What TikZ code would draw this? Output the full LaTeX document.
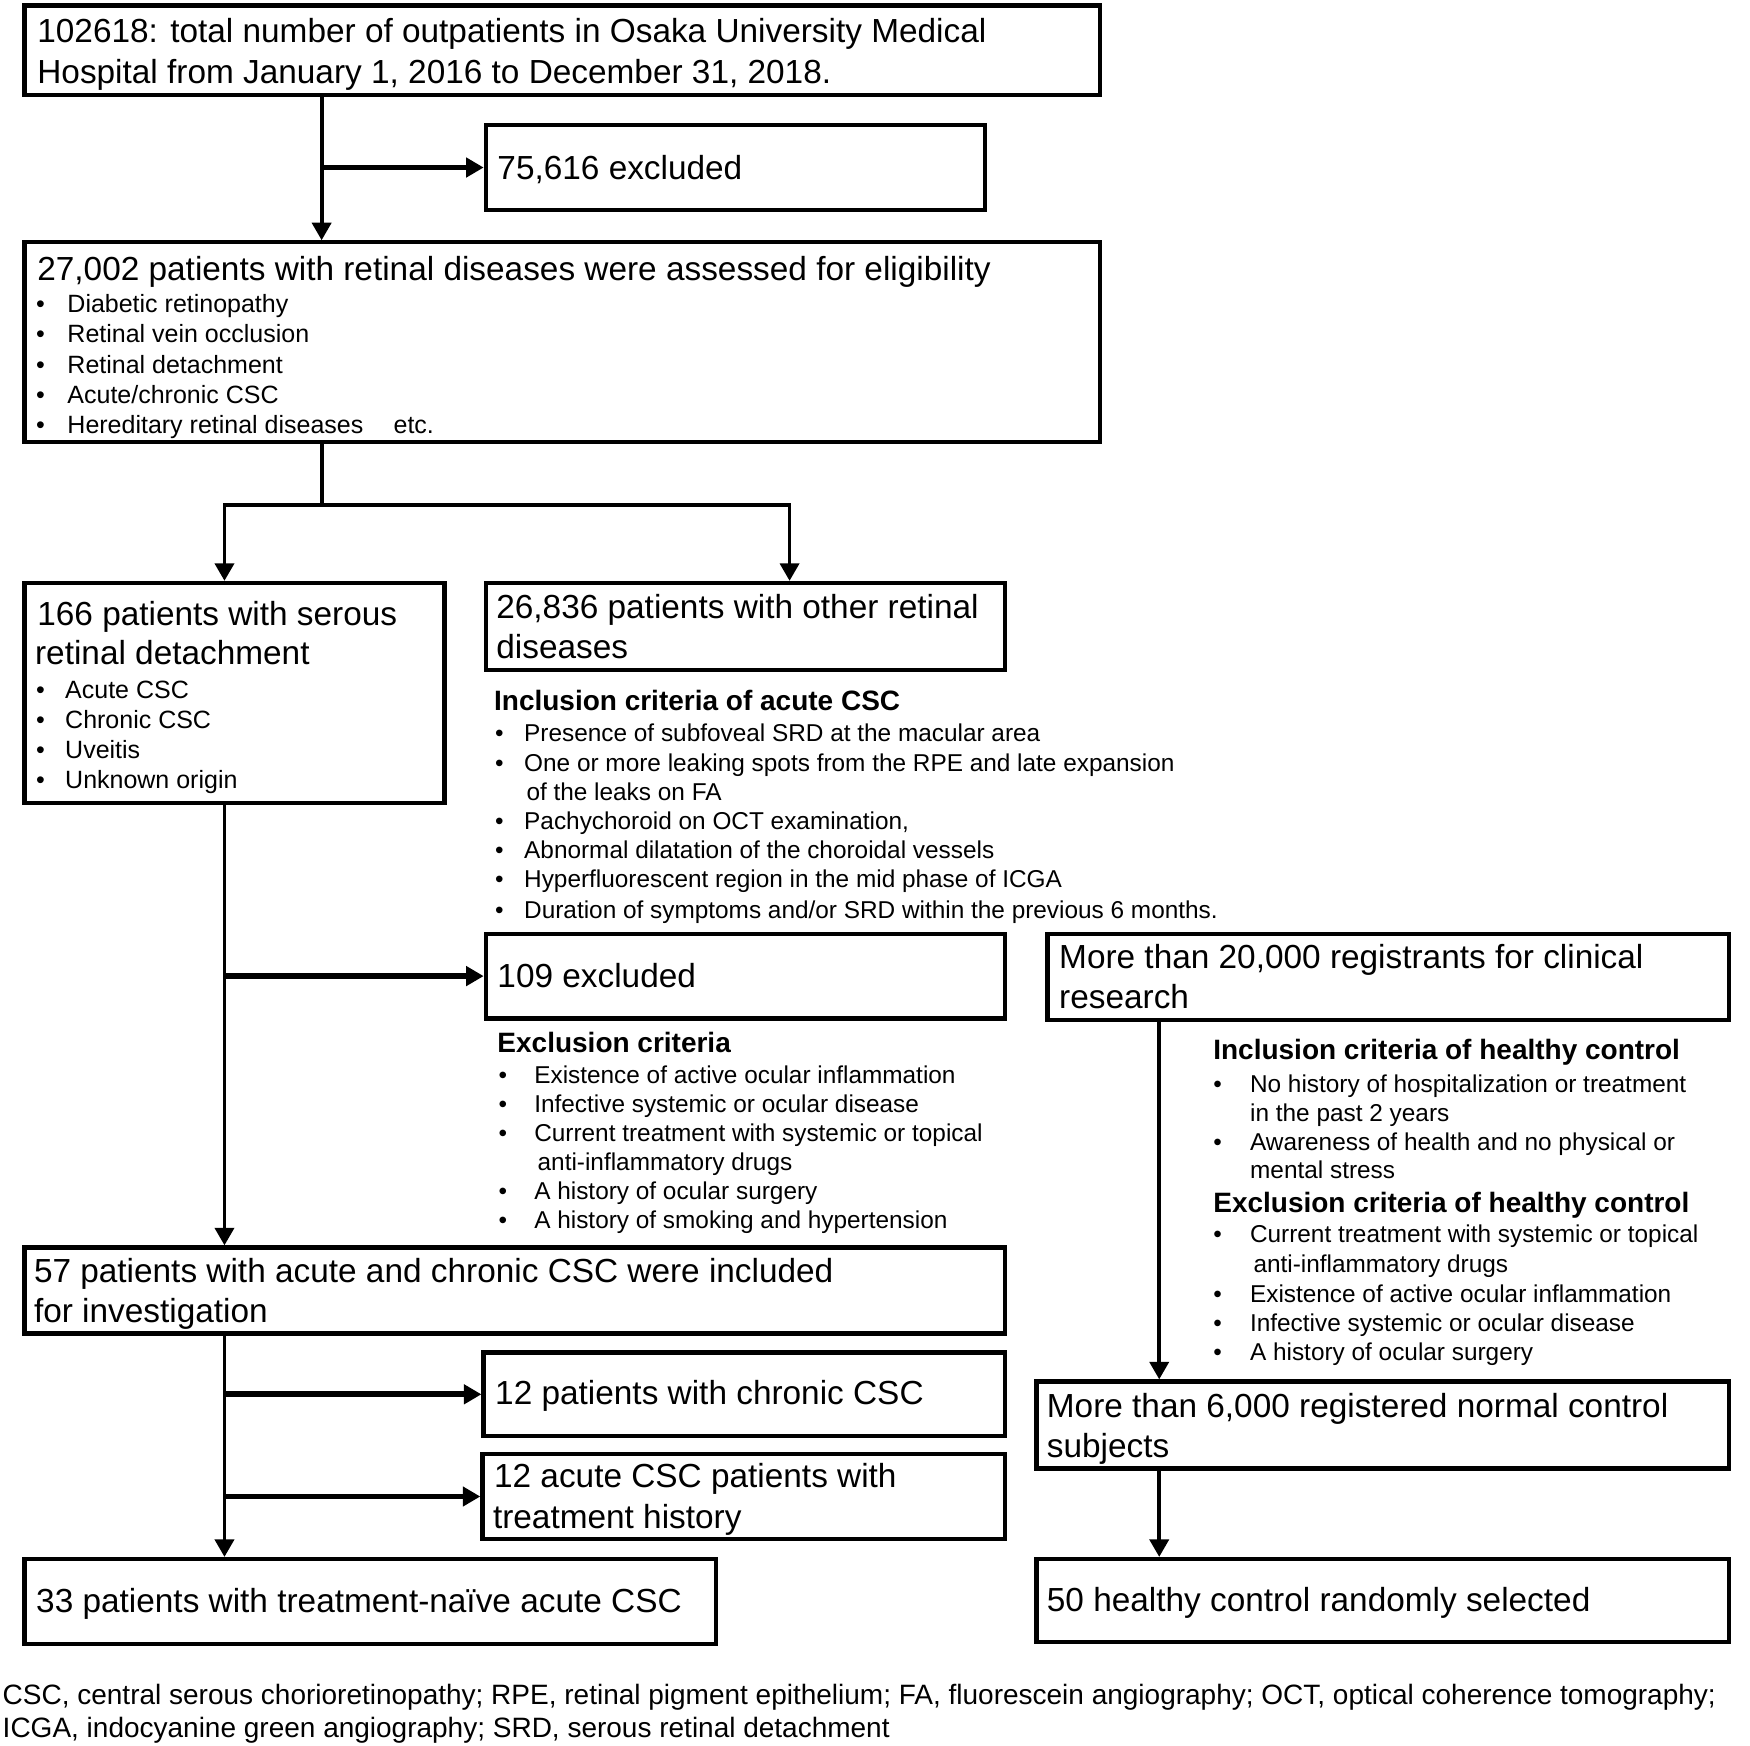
\documentclass[tikz,border=0pt]{standalone}
\usepackage{fontspec}
\setmainfont{Liberation Sans}
\usetikzlibrary{fit,arrows.meta}
\newcommand\bitem[2]{\makebox[#1][l]{\textbullet}#2}
\tikzset{
 box/.style={draw, line width=1.7pt, inner sep=0pt},
 big/.style={font=\fontsize{13.35}{16}\selectfont, inner sep=0pt, anchor=base west},
 sm/.style={font=\fontsize{9.75}{12}\selectfont, inner sep=0pt, anchor=base west},
 smb/.style={font=\fontsize{10}{12}\selectfont, inner sep=0pt, anchor=base west},
 hd/.style={font=\fontsize{11.2}{13}\selectfont\bfseries, inner sep=0pt, anchor=base west},
 foot/.style={font=\fontsize{11.2}{13}\selectfont, inner sep=0pt, anchor=base west},
 vline/.style={line width=1.5pt},
 varr/.style={line width=1.5pt, -{Triangle[length=7pt,width=7.6pt]}},
 harr/.style={line width=2.3pt, -{Triangle[length=7pt,width=7.6pt]}},
}
\begin{document}
\begin{tikzpicture}[x=0.4468pt, y=-0.4468pt]
\useasboundingbox (0,0) rectangle (1567,1563);
% boxes
\node[box, fit={(22,5)(985,85)}] (top) {};
\node[box, fit={(435,112)(882,188)}] (ex1) {};
\node[box, fit={(22,217)(985,396)}] (elig) {};
\node[box, fit={(22,522)(398,719)}] (srd) {};
\node[box, fit={(435,522)(900,600)}] (other) {};
\node[box, fit={(435,836)(900,912)}] (ex2) {};
\node[box, fit={(938,836)(1548,913)}] (reg) {};
\node[box, fit={(22,1117)(900,1194)}] (inc) {};
\node[box, fit={(433,1211)(900,1286)}] (chr) {};
\node[box, fit={(432,1302)(900,1378)}] (trt) {};
\node[box, fit={(22,1396)(641,1472)}] (naive) {};
\node[box, fit={(928,1237)(1548,1315)}] (norm) {};
\node[box, fit={(928,1396)(1548,1470)}] (healthy) {};
% trunk coordinates
\coordinate (t1) at (288,0);
\coordinate (t2) at (201,0);
\coordinate (t3) at (707,0);
\coordinate (t4) at (1038,0);
\coordinate (j1) at (288,452);
% connectors
\draw[varr] (top.south -| t1) -- (elig.north -| t1);
\draw[harr] (t1 |- ex1.west) -- (ex1.west);
\draw[vline] (elig.south -| t1) -- (j1);
\draw[line width=1.5pt, {Triangle[length=7pt,width=7.6pt]}-{Triangle[length=7pt,width=7.6pt]}]
  (srd.north -| t2) -- (j1 -| t2) -- (j1 -| t3) -- (other.north -| t3);
\draw[varr] (srd.south -| t2) -- (inc.north -| t2);
\draw[harr] (t2 |- ex2.west) -- (ex2.west);
\draw[varr] (inc.south -| t2) -- (naive.north -| t2);
\draw[harr] (t2 |- chr.west) -- (chr.west);
\draw[harr] (t2 |- trt.west) -- (trt.west);
\draw[varr] (reg.south -| t4) -- (norm.north -| t4);
\draw[varr] (norm.south -| t4) -- (healthy.north -| t4);
% texts
\node[big] (top1) at (33,38) {102618: total number of outpatients in Osaka University Medical};
\node[big] (top2) at (33,75) {Hospital from January 1, 2016 to December 31, 2018.};
\node[big] (ex1t) at (445,161) {75,616 excluded};
\node[big] (eligt) at (33,251) {27,002 patients with retinal diseases were assessed for eligibility};
\node[smb] (el1) at (32,280) {\bitem{12.5pt}{Diabetic retinopathy}};
\node[smb] (el2) at (32,307) {\bitem{12.5pt}{Retinal vein occlusion}};
\node[smb] (el3) at (32,334) {\bitem{12.5pt}{Retinal detachment}};
\node[smb] (el4) at (32,361) {\bitem{12.5pt}{Acute/chronic CSC}};
\node[smb] (el5) at (32,388) {\bitem{12.5pt}{Hereditary retinal diseases}};
\node[smb] (el5b) at (352,388) {etc.};
\node[big] (srd1) at (33,560) {166 patients with serous};
\node[big] (srd2) at (31,595) {retinal detachment};
\node[smb] (sr1) at (32,625) {\bitem{11.6pt}{Acute CSC}};
\node[smb] (sr2) at (32,652) {\bitem{11.6pt}{Chronic CSC}};
\node[smb] (sr3) at (32,679) {\bitem{11.6pt}{Uveitis}};
\node[smb] (sr4) at (32,706) {\bitem{11.6pt}{Unknown origin}};
\node[big] (oth1) at (444,554) {26,836 patients with other retinal};
\node[big] (oth2) at (444,590) {diseases};
\node[hd] (inh) at (442,636) {Inclusion criteria of acute CSC};
\node[sm] (in1) at (443,664) {\bitem{11.6pt}{Presence of subfoveal SRD at the macular area}};
\node[sm] (in2) at (443,691) {\bitem{11.6pt}{One or more leaking spots from the RPE and late expansion}};
\node[sm] (in2b) at (471,717) {of the leaks on FA};
\node[sm] (in3) at (443,743) {\bitem{11.6pt}{Pachychoroid on OCT examination,}};
\node[sm] (in4) at (443,769) {\bitem{11.6pt}{Abnormal dilatation of the choroidal vessels}};
\node[sm] (in5) at (443,795) {\bitem{11.6pt}{Hyperfluorescent region in the mid phase of ICGA}};
\node[sm] (in6) at (443,822) {\bitem{11.6pt}{Duration of symptoms and/or SRD within the previous 6 months.}};
\node[big] (ex2t) at (445,884) {109 excluded};
\node[hd] (exh) at (445,942) {Exclusion criteria};
\node[sm] (ec1) at (446,970) {\bitem{14.3pt}{Existence of active ocular inflammation}};
\node[sm] (ec2) at (446,996) {\bitem{14.3pt}{Infective systemic or ocular disease}};
\node[sm] (ec3) at (446,1022) {\bitem{14.3pt}{Current treatment with systemic or topical}};
\node[sm] (ec3b) at (481,1048) {anti-inflammatory drugs};
\node[sm] (ec4) at (446,1074) {\bitem{14.3pt}{A history of ocular surgery}};
\node[sm] (ec5) at (446,1100) {\bitem{14.3pt}{A history of smoking and hypertension}};
\node[big] (reg1) at (948,867) {More than 20,000 registrants for clinical};
\node[big] (reg2) at (948,903) {research};
\node[hd] (hih) at (1086,949) {Inclusion criteria of healthy control};
\node[sm] (hi1) at (1086,978) {\bitem{14.7pt}{No history of hospitalization or treatment}};
\node[sm] (hi1b) at (1119,1004) {in the past 2 years};
\node[sm] (hi2) at (1086,1030) {\bitem{14.7pt}{Awareness of health and no physical or}};
\node[sm] (hi2b) at (1119,1055) {mental stress};
\node[hd] (heh) at (1086,1086) {Exclusion criteria of healthy control};
\node[sm] (he1) at (1086,1113) {\bitem{14.7pt}{Current treatment with systemic or topical}};
\node[sm] (he1b) at (1122,1139) {anti-inflammatory drugs};
\node[sm] (he2) at (1086,1166) {\bitem{14.7pt}{Existence of active ocular inflammation}};
\node[sm] (he3) at (1086,1192) {\bitem{14.7pt}{Infective systemic or ocular disease}};
\node[sm] (he4) at (1086,1218) {\bitem{14.7pt}{A history of ocular surgery}};
\node[big] (inc1) at (30,1148) {57 patients with acute and chronic CSC were included};
\node[big] (inc2) at (30,1184) {for investigation};
\node[big] (chrt) at (443,1258) {12 patients with chronic CSC};
\node[big] (trt1) at (442,1332) {12 acute CSC patients with};
\node[big] (trt2) at (441,1369) {treatment history};
\node[big] (naivet) at (32,1444) {33 patients with treatment-naïve acute CSC};
\node[big] (norm1) at (937,1269) {More than 6,000 registered normal control};
\node[big] (norm2) at (937,1305) {subjects};
\node[big] (healthyt) at (937,1443) {50 healthy control randomly selected};
\node[foot] (f1) at (2,1526) {CSC, central serous chorioretinopathy; RPE, retinal pigment epithelium; FA, fluorescein angiography; OCT, optical coherence tomography;};
\node[foot] (f2) at (2,1556) {ICGA, indocyanine green angiography; SRD, serous retinal detachment};
\end{tikzpicture}
\end{document}
